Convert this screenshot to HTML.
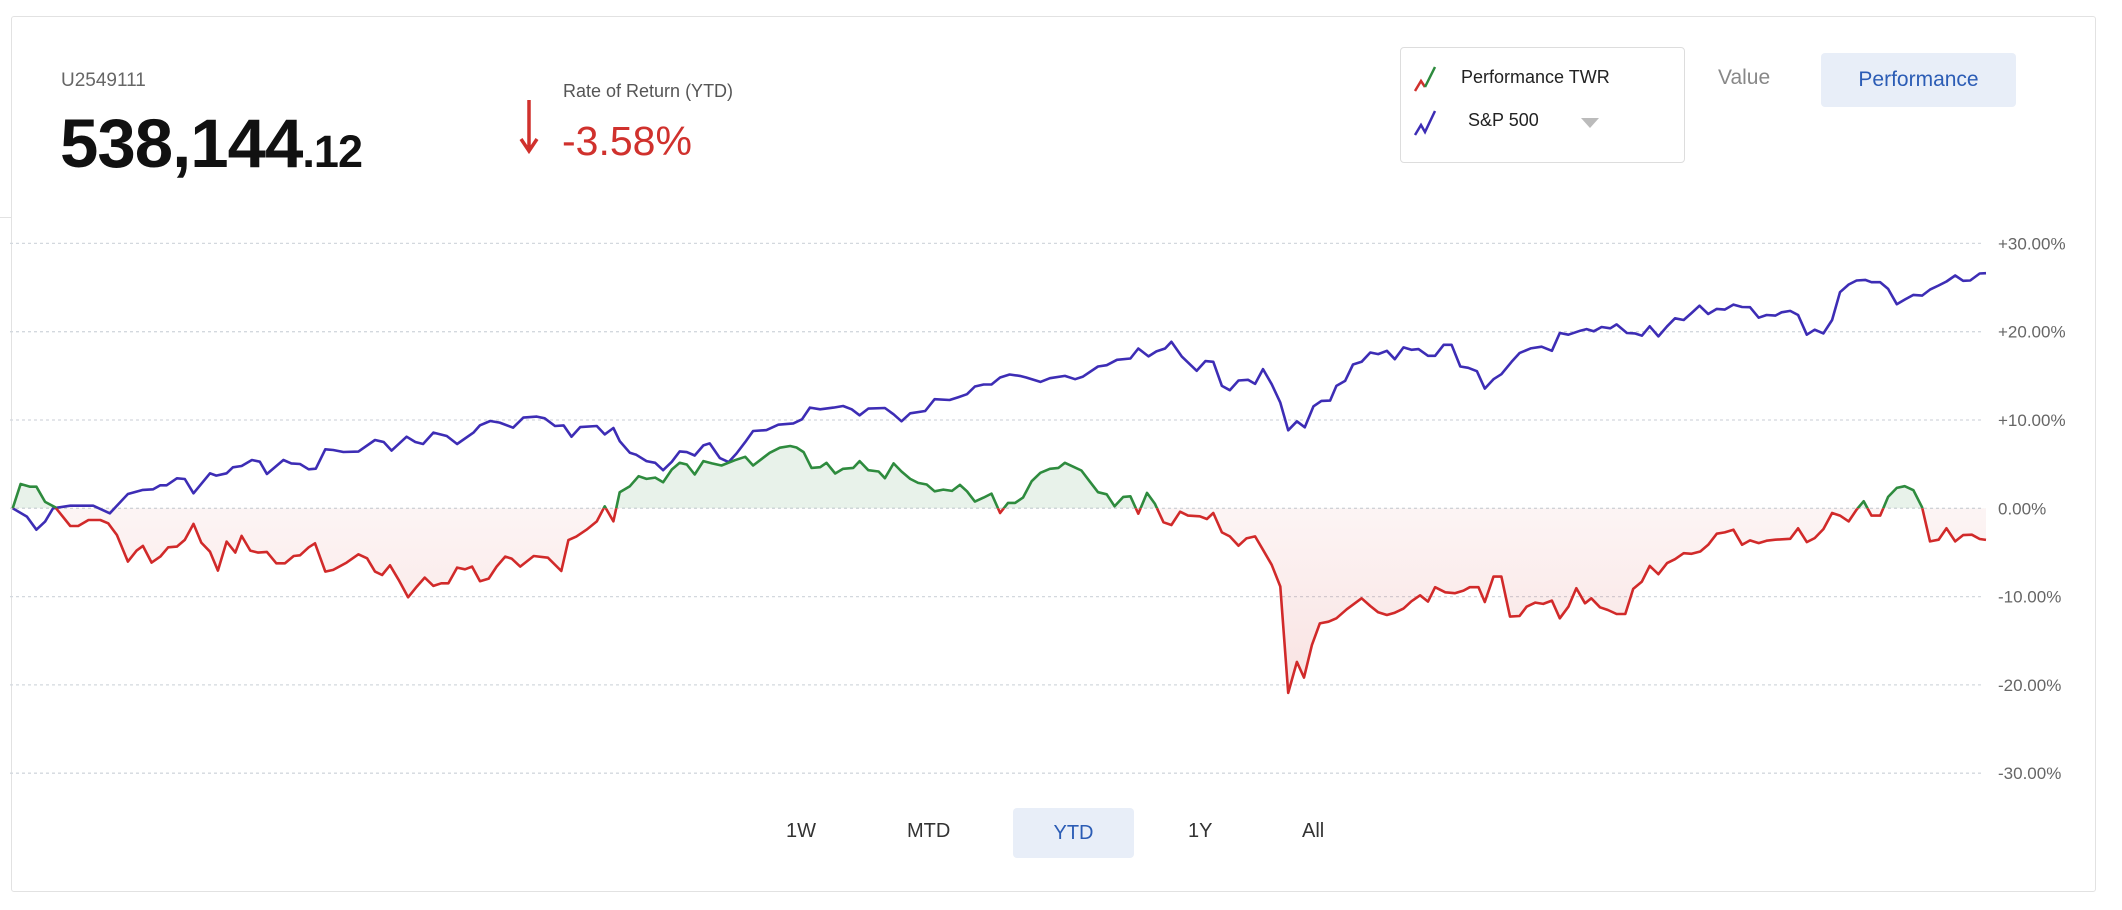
<!DOCTYPE html>
<html><head><meta charset="utf-8"><style>
html,body{margin:0;padding:0;background:#fff;}
body{width:2122px;height:910px;position:relative;overflow:hidden;font-family:"Liberation Sans",Arial,sans-serif;}
.card{position:absolute;left:11px;top:16px;width:2085px;height:876px;border:1px solid #e2e2e2;border-radius:3px;box-sizing:border-box;}
.abs{position:absolute;white-space:nowrap;}
</style></head><body>
<div class="card"></div>
<div class="abs" style="left:0;top:217px;width:11px;height:1px;background:#e2e2e2"></div>
<div class="abs" style="left:61px;top:70px;font-size:19px;color:#666;">U2549111</div>
<div class="abs" style="left:60px;top:104px;font-size:69px;font-weight:700;color:#111;letter-spacing:-1px;">538,144<span style="font-size:45px">.12</span></div>
<svg class="abs" style="left:518px;top:96px" width="22" height="60"><path d="M11 4 V54 M3 43 L11 55 L19 43" stroke="#d0312d" stroke-width="3.5" fill="none"/></svg>
<div class="abs" style="left:563px;top:81px;font-size:18px;color:#555;">Rate of Return (YTD)</div>
<div class="abs" style="left:562px;top:118px;font-size:41px;color:#d0312d;">-3.58%</div>
<div class="abs" style="left:1400px;top:47px;width:285px;height:116px;border:1px solid #ddd;border-radius:4px;box-sizing:border-box;background:#fff;"></div>
<svg class="abs" style="left:1413px;top:64px" width="26" height="30"><path d="M2 27 L8 17 L12 23" stroke="#d0312d" stroke-width="2.5" fill="none"/><path d="M12 23 L17 13 L22 3" stroke="#2e8b3e" stroke-width="2.5" fill="none"/></svg>
<div class="abs" style="left:1461px;top:67px;font-size:18px;color:#222;">Performance TWR</div>
<svg class="abs" style="left:1413px;top:108px" width="26" height="30"><path d="M2 27 L8 17 L12 24 L22 3" stroke="#3d2db5" stroke-width="2.5" fill="none"/></svg>
<div class="abs" style="left:1468px;top:110px;font-size:18px;color:#222;">S&amp;P 500</div>
<svg class="abs" style="left:1580px;top:116px" width="20" height="14"><path d="M1 2 L19 2 L10 12 Z" fill="#bbb"/></svg>
<div class="abs" style="left:1718px;top:66px;font-size:21px;color:#888;">Value</div>
<div class="abs" style="left:1821px;top:53px;width:195px;height:54px;background:#e8eef8;border-radius:4px;color:#2b5cb5;font-size:21px;line-height:54px;text-align:center;">Performance</div>
<svg id="chart" class="abs" style="left:0;top:0" width="2122" height="910">
<defs>
<clipPath id="above"><rect x="0" y="0" width="2122" height="508.3"/></clipPath>
<clipPath id="below"><rect x="0" y="508.3" width="2122" height="400"/></clipPath>
<linearGradient id="redfill" x1="0" y1="0" x2="0" y2="1"><stop offset="0" stop-color="#d0312d" stop-opacity="0.02"/><stop offset="1" stop-color="#d0312d" stop-opacity="0.14"/></linearGradient>
</defs>
<g id="grid"></g><g id="fills"></g><g id="lines"></g>
</svg>
<div class="abs" style="left:786px;top:820px;font-size:20px;color:#333;">1W</div>
<div class="abs" style="left:907px;top:820px;font-size:20px;color:#333;">MTD</div>
<div class="abs" style="left:1013px;top:808px;width:121px;height:50px;background:#e8eef8;border-radius:4px;color:#2b5cb5;font-size:20px;line-height:50px;text-align:center;">YTD</div>
<div class="abs" style="left:1188px;top:820px;font-size:20px;color:#333;">1Y</div>
<div class="abs" style="left:1302px;top:820px;font-size:20px;color:#333;">All</div>
<script>
const yTicks=[30,20,10,0,-10,-20,-30];
const yTickLabels=["+30.00%","+20.00%","+10.00%","0.00%","-10.00%","-20.00%","-30.00%"];
const spDays=[0,1.8,3,4.1,5.1,7.3,10.2,12.3,14.6,16.5,17.8,18.7,19.5,20.8,21.8,22.9,25,25.8,27.1,27.9,29,30.3,31.3,32.2,34.3,35.3,36.4,37.5,38.4,39.6,40.6,41.9,43.8,45.9,47,48,49.9,51,52,53.3,55,56.3,58.4,59.2,60.5,61.7,63.4,64.7,66.4,67.4,68.7,69.8,70.8,71.9,74,75,76.1,76.9,78.2,79,80.3,81.4,82.4,83.5,84.5,85.4,86.4,87.5,88.3,89.6,90.7,91.7,92.8,93.8,95.5,97,98.9,100,101,102.3,104,105.2,106.3,107.3,108.4,110.5,111.6,112.6,113.7,115.6,116.8,118.7,119.8,120.9,121.9,123,124,125.1,126.3,127.6,128.4,130.2,131.4,133.3,134.6,135.6,137.5,138.6,139.9,141.6,142.6,143.9,144.9,146,146.8,148.1,150,151.1,152.1,153.2,154.2,155.3,156.5,157.4,158.4,159.5,160.6,161.6,162.7,163.7,164.8,165.8,166.9,167.7,168.8,169.8,170.9,172,173,174.1,175.1,176.2,177.2,178.1,179.3,180.2,181.3,182.3,183.4,184.4,185.5,186.5,187.6,188.6,189.9,190.9,192.3,193.7,195,196,197.1,198.6,199.4,200.3,201.3,202.4,203.2,204.5,205.5,206.4,207.4,208.5,209.6,210.6,211.7,212.7,213.7,214.8,215.9,216.9,218,219.1,220.1,221.2,222.2,223.3,224.1,225.2,226.2,227.3,228.3,229.4,230.5,231.5,232.6,233.6,234.7,235.5,236.6,237.6,238.7,239.7,240.8,241.9,242.9,244,245,246.1,247.1,248,249.2,250];
const spValues=[0,-0.94,-2.42,-1.51,0,0.3,0.3,-0.57,1.62,2.08,2.15,2.6,2.6,3.4,3.32,1.7,3.96,3.7,3.96,4.64,4.79,5.47,5.28,3.89,5.47,5.09,5.02,4.42,4.49,6.68,6.6,6.38,6.42,7.74,7.51,6.53,8.11,7.51,7.28,8.57,8.19,7.28,8.6,9.4,9.89,9.7,9.13,10.27,10.38,10.19,9.32,9.39,8.11,9.2,9.32,8.37,9.09,7.61,6.29,6.06,5.34,5.15,4.32,5.27,6.44,6.36,5.98,7.12,7.35,5.68,5.23,6.21,7.5,8.75,8.86,9.47,9.62,10.08,11.4,11.21,11.4,11.59,11.21,10.53,11.29,11.36,10.64,9.85,10.76,11.02,12.35,12.27,12.58,12.92,13.79,14.02,14.02,14.81,15.15,15,14.81,14.32,14.73,15,14.62,14.92,16.06,16.21,16.82,16.97,18.1,17.2,17.77,18.1,18.86,17.2,15.57,16.67,16.59,13.86,13.37,14.47,14.55,14.09,15.76,14.05,11.97,8.83,9.85,9.17,11.55,12.16,12.2,13.86,14.43,16.29,16.59,17.65,17.46,17.84,16.89,18.22,17.95,18.03,17.27,17.27,18.52,18.52,16.06,15.91,15.53,13.56,14.62,15.19,16.59,17.58,18.11,18.3,17.84,19.85,19.66,20.11,20.3,20.04,20.53,20.38,20.83,19.85,19.81,19.55,20.61,19.47,20.61,21.52,21.33,22.12,22.95,22,22.58,22.5,23.07,22.8,22.77,21.59,21.89,21.82,22.2,22.35,21.89,19.66,20.23,19.81,21.33,24.47,25.34,25.8,25.87,25.61,25.61,24.85,23.11,23.64,24.17,24.09,24.77,25.23,25.68,26.36,25.76,25.8,26.59,26.63];
const twrDays=[0,1,2.2,3,4.1,5.4,7.3,8.3,9.6,11.1,12.1,13.2,14.6,15.7,16.5,17.6,18.7,19.7,20.8,21.8,22.9,23.9,25,26,27.1,28.2,29,30.1,31.1,32.2,33.4,34.5,35.6,36.4,37.5,38.3,39.6,40.6,42.3,43.8,44.9,45.9,46.8,47.8,48.9,50.1,51.2,52.2,53.3,54.3,55.2,56.3,57.3,58.2,59.2,60.3,61.3,62.4,63.2,64.3,66,67.8,69.5,70.4,71.4,72.7,74,75,76.1,76.9,78.2,79.3,80.3,81.4,82.4,83.5,84.5,85.4,86.4,87.5,88.6,89.8,91.5,92.8,93.8,95.9,97.2,98.5,99.3,100.2,101.2,102.3,103.1,104.2,105.2,106.5,107.3,108.4,109.7,110.5,111.6,112.6,113.7,114.7,115.8,116.8,117.9,119,120,120.9,121.9,123,124,125.1,126.1,127,128,129.1,130.2,131.4,132.5,133.3,134.4,135.4,136.5,137.5,138.6,139.6,140.7,141.6,142.6,143.7,144.7,145.8,146.8,147.9,148.9,150.4,151.3,152.1,153.2,154.2,155.3,156.3,157.4,158.4,159.5,160.6,161.6,162.7,163.6,164.6,165.6,166.7,167.7,169,170.9,172,173,174.1,175.1,176.2,177.2,178.3,179.3,180.2,181.5,182.7,183.8,184.6,185.7,186.5,187.6,188.6,189.7,190.9,191.8,192.9,193.9,195,196,197.1,198.1,199.2,200,201.1,202.1,203.2,204.3,205.3,206.4,207.4,208.5,209.6,210.6,211.7,212.7,213.8,214.8,215.9,216.9,218,219.1,220.1,221.2,222.2,223.3,225.2,226.2,227.3,228.3,229.4,230.5,231.5,232.6,233.6,234.5,235.5,236.6,237.6,238.7,239.7,240.8,241.9,242.9,244,245,246.1,247.1,248.2,249.2,250];
const twrValues=[0,2.75,2.45,2.45,0.72,0.11,-2,-2,-1.32,-1.32,-1.7,-3.02,-6.04,-4.79,-4.26,-6.15,-5.47,-4.42,-4.34,-3.58,-1.77,-3.89,-4.91,-7.06,-3.77,-5.02,-3.13,-4.79,-5.02,-4.94,-6.23,-6.23,-5.4,-5.32,-4.42,-3.96,-7.17,-6.98,-6.15,-5.21,-5.66,-7.17,-7.55,-6.45,-8.11,-10.08,-8.87,-7.85,-8.79,-8.49,-8.49,-6.72,-6.91,-6.6,-8.26,-7.96,-6.6,-5.47,-5.7,-6.6,-5.4,-5.6,-7.1,-3.6,-3.2,-2.42,-1.48,0.23,-1.48,1.82,2.5,3.64,3.33,3.48,2.95,4.39,5.15,4.96,3.83,5.34,5.08,4.85,5.45,5.83,4.85,6.29,6.86,7.05,6.89,6.36,4.58,4.66,5.15,3.94,4.47,4.58,5.34,4.32,4.17,3.41,5.08,4.17,3.33,2.88,2.69,1.93,2.12,1.97,2.65,1.93,0.76,1.21,1.67,-0.53,0.61,0.61,1.21,3.07,4.02,4.47,4.58,5.15,4.7,4.28,2.99,1.82,1.59,0.23,1.29,1.36,-0.61,1.74,0.53,-1.59,-1.89,-0.38,-0.83,-0.91,-1.21,-0.53,-2.73,-3.18,-4.24,-3.41,-3.18,-4.7,-6.4,-8.86,-20.91,-17.39,-19.17,-15.49,-13.03,-12.84,-12.46,-11.44,-10.19,-11.06,-11.78,-12.08,-11.82,-11.36,-10.53,-9.85,-10.57,-8.94,-9.51,-9.62,-9.32,-8.94,-8.94,-10.61,-7.73,-7.73,-12.27,-12.2,-11.14,-10.68,-10.83,-10.45,-12.46,-11.14,-9.05,-10.76,-10.19,-11.21,-11.52,-11.97,-11.97,-9.13,-8.3,-6.52,-7.46,-6.21,-5.76,-5.08,-5.15,-4.89,-4.13,-2.88,-2.73,-2.42,-4.13,-3.64,-3.94,-3.67,-3.56,-3.45,-2.27,-3.83,-3.37,-2.35,-0.53,-0.83,-1.48,-0.15,0.8,-0.83,-0.83,1.29,2.31,2.5,2.05,0.11,-3.75,-3.56,-2.27,-3.75,-3.03,-2.99,-3.48,-3.58];

const X0=12.7,X1=1986,DMAX=250,Y0=508.3,PX=8.83;
function xs(d){return X0+d*(X1-X0)/DMAX;}
function ys(v){return Y0-v*PX;}
const NS="http://www.w3.org/2000/svg";
const grid=document.getElementById('grid'),fills=document.getElementById('fills'),lines=document.getElementById('lines');
yTicks.forEach((t,i)=>{
  const l=document.createElementNS(NS,'line');
  
  
  l.setAttribute('x1',10);l.setAttribute('x2',1982);l.setAttribute('y1',ys(t));l.setAttribute('y2',ys(t));
  l.setAttribute('stroke','#d3d8de');l.setAttribute('stroke-width','1.3');l.setAttribute('stroke-dasharray','3 3');
  grid.appendChild(l);
  const tx=document.createElementNS(NS,'text');
  
  
  tx.setAttribute('x',1998);tx.setAttribute('y',ys(t)+6);
  tx.setAttribute('font-size','17');tx.setAttribute('fill','#666');tx.setAttribute('font-family','Liberation Sans, Arial, sans-serif');
  tx.textContent=yTickLabels[i];
  grid.appendChild(tx);
});
function pathD(days,vals){return days.map((d,i)=>(i?'L':'M')+xs(d).toFixed(1)+' '+ys(vals[i]).toFixed(1)).join(' ');}
const twrD=pathD(twrDays,twrValues);
const areaD=twrD+' L'+xs(twrDays[twrDays.length-1]).toFixed(1)+' '+Y0+' L'+xs(twrDays[0]).toFixed(1)+' '+Y0+' Z';
const ga=document.createElementNS(NS,'path');


ga.setAttribute('d',areaD);ga.setAttribute('fill','#2e8b3e');ga.setAttribute('fill-opacity','0.11');ga.setAttribute('clip-path','url(#above)');
fills.appendChild(ga);
const ra=document.createElementNS(NS,'path');


ra.setAttribute('d',areaD);ra.setAttribute('fill','url(#redfill)');ra.setAttribute('clip-path','url(#below)');
fills.appendChild(ra);
const sp=document.createElementNS(NS,'path');


sp.setAttribute('d',pathD(spDays,spValues));sp.setAttribute('fill','none');sp.setAttribute('stroke','#3d2db5');sp.setAttribute('stroke-width','2.6');sp.setAttribute('stroke-linejoin','round');
lines.appendChild(sp);
const gl=document.createElementNS(NS,'path');


gl.setAttribute('d',twrD);gl.setAttribute('fill','none');gl.setAttribute('stroke','#2e8b3e');gl.setAttribute('stroke-width','2.6');gl.setAttribute('stroke-linejoin','round');gl.setAttribute('clip-path','url(#above)');
lines.appendChild(gl);
const rl=document.createElementNS(NS,'path');


rl.setAttribute('d',twrD);rl.setAttribute('fill','none');rl.setAttribute('stroke','#d12a2a');rl.setAttribute('stroke-width','2.6');rl.setAttribute('stroke-linejoin','round');rl.setAttribute('clip-path','url(#below)');
lines.appendChild(rl);
</script>
</body></html>
